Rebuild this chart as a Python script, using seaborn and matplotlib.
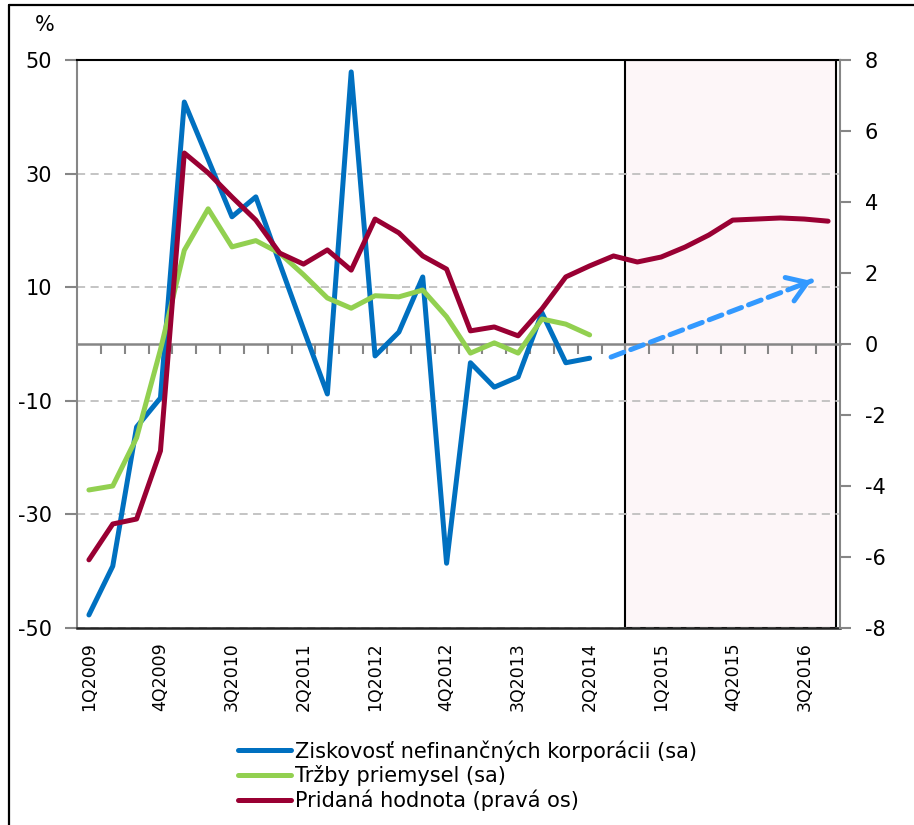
import matplotlib
matplotlib.use("Agg")
import matplotlib.pyplot as plt
import seaborn as sns
import numpy as np
import pandas as pd
from matplotlib.lines import Line2D

# ---------------- data ----------------
quarters = ["1Q2009", "2Q2009", "3Q2009", "4Q2009",
            "1Q2010", "2Q2010", "3Q2010", "4Q2010",
            "1Q2011", "2Q2011", "3Q2011", "4Q2011",
            "1Q2012", "2Q2012", "3Q2012", "4Q2012",
            "1Q2013", "2Q2013", "3Q2013", "4Q2013",
            "1Q2014", "2Q2014", "3Q2014", "4Q2014",
            "1Q2015", "2Q2015", "3Q2015", "4Q2015",
            "1Q2016", "2Q2016", "3Q2016", "4Q2016"]

ziskovost = [-47.7, -39.1, -14.6, -9.5, 42.6, 32.5, 22.4, 25.9, 14.2, 2.6,
             -8.8, 47.9, -2.1, 2.1, 11.8, -38.6, -3.3, -7.6, -5.8, 5.5,
             -3.3, -2.5]
trzby = [-25.7, -25.0, -16.5, -1.0, 16.5, 23.8, 17.1, 18.2, 16.0, 12.2,
         8.1, 6.3, 8.5, 8.3, 9.5, 4.8, -1.6, 0.2, -1.6, 4.4,
         3.5, 1.6]
pridana = [-6.08, -5.07, -4.93, -3.01, 5.38, 4.82, 4.14, 3.49, 2.56, 2.25,
           2.65, 2.08, 3.52, 3.13, 2.48, 2.11, 0.37, 0.48, 0.23, 0.99,
           1.89, 2.20, 2.48, 2.31, 2.45, 2.73, 3.07, 3.49, 3.52, 3.55,
           3.52, 3.46]

series_names = ["Ziskovosť nefinančných korporácii (sa)",
                "Tržby priemysel (sa)",
                "Pridaná hodnota (pravá os)"]
left_ticks = [-50, -30, -10, 10, 30, 50]
right_ticks = [-8, -6, -4, -2, 0, 2, 4, 6, 8]
forecast_from = "4Q2014"
arrow_from = (21.9, -2.3)
arrow_to = (30.3, 11.1)

# ---------------- style ----------------
sns.set_style("white")
plt.rcParams['font.family'] = ['DejaVu Sans']
plt.rcParams['text.color'] = 'black'
plt.rcParams['axes.unicode_minus'] = False

BLUE = "#0070C0"
GREEN = "#92D050"
RED = "#990033"
ARROW = "#3399FF"
GRAY = "#868686"
LW = 3.6

W, H = 914, 825
fig = plt.figure(figsize=(W / 100, H / 100), dpi=100)
ax = fig.add_axes([77 / W, 1 - 628 / H, (840 - 77) / W, (628 - 60) / H])

x = np.arange(len(quarters))
df_left = pd.DataFrame({"x": x[:len(ziskovost)], "zisk": ziskovost, "trzby": trzby})
df_right = pd.DataFrame({"x": x, "pridana": pridana})

ax.set_xlim(-0.5, len(quarters) - 0.5)
ax.set_ylim(-50, 50)

# shaded forecast box
x0 = quarters.index(forecast_from) - 0.5
ax.axvspan(x0, len(quarters) - 0.65, facecolor="#FDF6F8", edgecolor="black",
           lw=1.5, zorder=0.3)

sns.lineplot(data=df_left, x="x", y="zisk", ax=ax, color=BLUE, lw=LW)
sns.lineplot(data=df_left, x="x", y="trzby", ax=ax, color=GREEN, lw=LW)

ax2 = ax.twinx()
sns.lineplot(data=df_right, x="x", y="pridana", ax=ax2, color=RED, lw=LW)
ax2.set_ylim(-8, 8)
ax2.set_xlim(-0.5, len(quarters) - 0.5)

for a in (ax, ax2):
    a.set_xlabel("")
    a.set_ylabel("")
    for ln in a.get_lines():
        ln.set_solid_capstyle("round")
        ln.set_solid_joinstyle("round")

# grid
ax.set_axisbelow(True)
ax.set_yticks(left_ticks)
ax.yaxis.grid(True, color="#BFBFBF", lw=1.3, linestyle=(0, (4.5, 3)))
ax.xaxis.grid(False)

# spines
ax.spines["top"].set_color("black")
ax.spines["top"].set_linewidth(1.5)
ax.spines["bottom"].set_color("#222222")
ax.spines["bottom"].set_linewidth(1.8)
ax.spines["left"].set_color(GRAY)
ax.spines["left"].set_linewidth(1.5)
ax.spines["right"].set_visible(False)
for s in ("top", "bottom", "left"):
    ax2.spines[s].set_visible(False)
ax2.spines["right"].set_visible(True)
ax2.spines["right"].set_color(GRAY)
ax2.spines["right"].set_linewidth(1.5)

# ticks
ax.tick_params(axis="y", which="major", left=True, direction="out", length=9,
               width=1.5, color=GRAY, labelsize=15, pad=9, labelcolor="black")
ax.set_xticks(x[::3])
ax.set_xticklabels(quarters[::3], rotation=90, fontsize=12.5, color="black")
ax.tick_params(axis="x", length=0, pad=10)

ax2.set_yticks(right_ticks)
ax2.tick_params(axis="y", right=True, direction="out", length=8, width=1.5,
                color=GRAY, labelsize=15, pad=10, labelcolor="black")

# zero line with category tick marks
zero_pos = (0 - (-50)) / 100
sec = ax.secondary_xaxis(zero_pos)
sec.set_xticks(np.arange(0.5, len(quarters) - 1, 1))
sec.tick_params(axis="x", direction="in", length=7, width=1.5, color=GRAY,
                labeltop=False, labelbottom=False)
for s in sec.spines.values():
    s.set_color(GRAY)
    s.set_linewidth(1.8)
sec.set_zorder(1)

# dashed arrow
ax.annotate("", xy=arrow_to, xytext=arrow_from,
            arrowprops=dict(arrowstyle="-", color=ARROW, lw=LW,
                            linestyle=(0, (2.7, 1.5)), shrinkA=0, shrinkB=0),
            zorder=3)
stub = (arrow_to[0] - 0.05 * (arrow_to[0] - arrow_from[0]),
        arrow_to[1] - 0.05 * (arrow_to[1] - arrow_from[1]))
ax.annotate("", xy=arrow_to, xytext=stub,
            arrowprops=dict(arrowstyle="->,head_length=0.45,head_width=0.3",
                            color=ARROW, lw=LW, shrinkA=0, shrinkB=0,
                            mutation_scale=30),
            zorder=3)

# "%" label
fig.text(45 / W, 1 - 25 / H, "%", fontsize=15, ha="center", va="center",
         color="black")

# legend
handles = [Line2D([0], [0], color=c, lw=LW, solid_capstyle="round")
           for c in (BLUE, GREEN, RED)]
leg = fig.legend(handles, series_names, loc="upper left",
                 bbox_to_anchor=(238 / W, 1 - 740 / H), frameon=False,
                 fontsize=15, handlelength=2.55, handletextpad=0.2,
                 labelspacing=0.17, borderpad=0, borderaxespad=0)
for t in leg.get_texts():
    t.set_color("black")

# outer frame
fig.add_artist(Line2D([9 / W, 9 / W], [0, 1 - 5 / H], transform=fig.transFigure,
                      color="black", lw=1.6))
fig.add_artist(Line2D([9 / W, 1], [1 - 5 / H, 1 - 5 / H], transform=fig.transFigure,
                      color="black", lw=1.6))

fig.savefig("out.png", dpi=100)
